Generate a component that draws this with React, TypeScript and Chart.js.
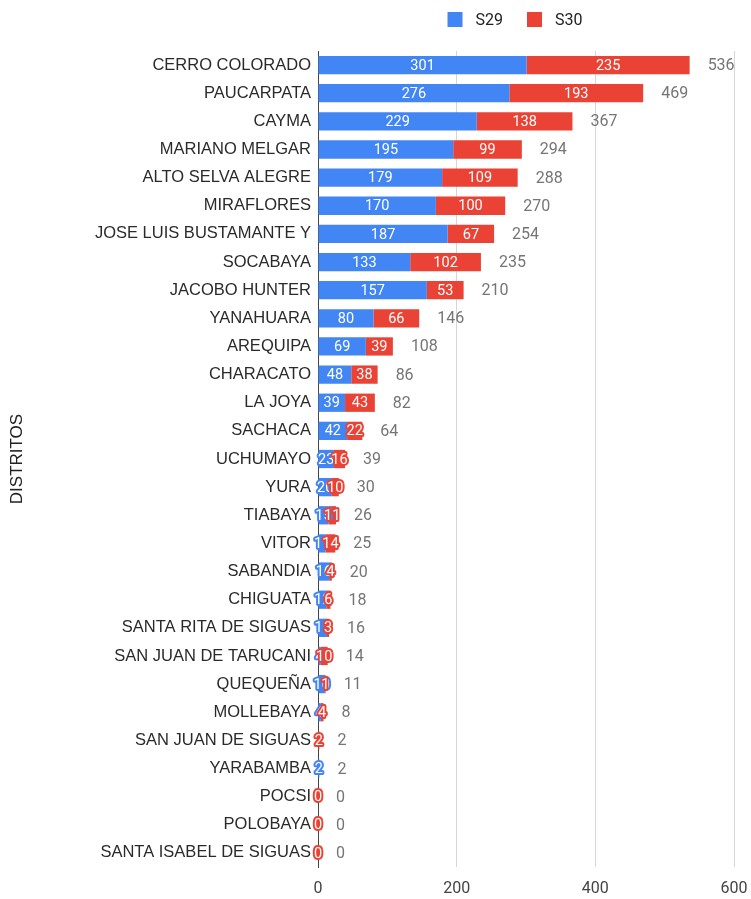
import React, { useEffect, useRef } from "react";
import { Chart, registerables } from "chart.js";

Chart.register(...registerables);

const categories = [
  "CERRO COLORADO",
  "PAUCARPATA",
  "CAYMA",
  "MARIANO MELGAR",
  "ALTO SELVA ALEGRE",
  "MIRAFLORES",
  "JOSE LUIS BUSTAMANTE Y",
  "SOCABAYA",
  "JACOBO HUNTER",
  "YANAHUARA",
  "AREQUIPA",
  "CHARACATO",
  "LA JOYA",
  "SACHACA",
  "UCHUMAYO",
  "YURA",
  "TIABAYA",
  "VITOR",
  "SABANDIA",
  "CHIGUATA",
  "SANTA RITA DE SIGUAS",
  "SAN JUAN DE TARUCANI",
  "QUEQUEÑA",
  "MOLLEBAYA",
  "SAN JUAN DE SIGUAS",
  "YARABAMBA",
  "POCSI",
  "POLOBAYA",
  "SANTA ISABEL DE SIGUAS",
];

const s29 = [301, 276, 229, 195, 179, 170, 187, 133, 157, 80, 69, 48, 39, 42, 23, 20, 15, 11, 16, 12, 13, 4, 10, 4, 0, 2, 0, 0, 0];
const s30 = [235, 193, 138, 99, 109, 100, 67, 102, 53, 66, 39, 38, 43, 22, 16, 10, 11, 14, 4, 6, 3, 10, 1, 4, 2, 0, 0, 0, 0];

const xTicks = [0, 200, 400, 600];

const BLUE = "#4285F4";
const RED = "#EA4335";

const labelsPlugin = {
  id: "customLabels",
  afterDatasetsDraw(chart: any) {
    const ctx = chart.ctx;
    const n = categories.length;
    ctx.save();
    ctx.font = "14.5px Roboto";
    ctx.textAlign = "center";
    ctx.textBaseline = "middle";
    ctx.lineJoin = "round";
    const colors = [BLUE, RED];
    const totals: number[] = [];
    for (let i = 0; i < n; i++) totals.push(s29[i] + s30[i]);
    for (let d = 0; d < 2; d++) {
      const meta = chart.getDatasetMeta(d);
      const vals = d === 0 ? s29 : s30;
      for (let i = 0; i < n; i++) {
        const v = vals[i];
        if (v === 0 && !(totals[i] === 0 && d === 1)) continue;
        const el = meta.data[i];
        const p = el.getProps(["x", "base", "y"], true);
        const cx = (p.x + p.base) / 2;
        const txt = String(v);
        ctx.strokeStyle = colors[d];
        ctx.lineWidth = 4;
        ctx.strokeText(txt, cx, p.y + 1);
        ctx.fillStyle = "#ffffff";
        ctx.fillText(txt, cx, p.y + 1);
      }
    }
    // totals
    const xs = chart.scales.x;
    const m1 = chart.getDatasetMeta(1);
    ctx.font = "16px Roboto";
    ctx.textAlign = "left";
    ctx.fillStyle = "#757575";
    for (let i = 0; i < n; i++) {
      const y = m1.data[i].getProps(["y"], true).y;
      const xEnd = xs.getPixelForValue(totals[i]);
      ctx.fillText(String(totals[i]), xEnd + 18, y + 1);
    }
    // legend
    ctx.font = "16px Roboto";
    ctx.textBaseline = "middle";
    const items = [
      { t: "S29", c: BLUE },
      { t: "S30", c: RED },
    ];
    const box = 15;
    const gapBT = 13;
    const gapItems = 24;
    let total = 0;
    items.forEach((it, k) => {
      total += box + gapBT + ctx.measureText(it.t).width + (k < items.length - 1 ? gapItems : 0);
    });
    const ca = chart.chartArea;
    let x = (ca.left + ca.right) / 2 - 11 - total / 2;
    const ly = 19.5;
    items.forEach((it) => {
      ctx.fillStyle = it.c;
      ctx.fillRect(x, ly - box / 2, box, box);
      x += box + gapBT;
      ctx.fillStyle = "#222222";
      ctx.fillText(it.t, x, ly + 1);
      x += ctx.measureText(it.t).width + gapItems;
    });
    ctx.restore();
  },
};

export default function App() {
  const ref = useRef<HTMLCanvasElement | null>(null);
  useEffect(() => {
    document.body.style.margin = "0";
    const canvas = ref.current!;
    const chart = new Chart(canvas, {
      type: "bar",
      data: {
        labels: categories,
        datasets: [
          { label: "S29", data: s29, backgroundColor: BLUE, barPercentage: 0.65, categoryPercentage: 1 },
          { label: "S30", data: s30, backgroundColor: RED, barPercentage: 0.65, categoryPercentage: 1 },
        ],
      },
      options: {
        indexAxis: "y",
        responsive: false,
        animation: false,
        layout: { padding: { top: 51, right: 17, bottom: 0, left: 0 } },
        plugins: {
          legend: { display: false },
          tooltip: { enabled: false },
        },
        scales: {
          x: {
            stacked: true,
            min: 0,
            max: 600,
            afterBuildTicks: (scale: any) => {
              scale.ticks = xTicks.map((v) => ({ value: v }));
            },
            afterFit: (scale: any) => {
              scale.height = 32;
              scale.paddingRight = 0;
              scale.paddingLeft = 0;
            },
            ticks: {
              padding: 12,
              color: "#444444",
              font: { family: "Roboto", size: 16 },
            },
            grid: {
              drawTicks: false,
              color: (c: any) => (c.tick && c.tick.value === 0 ? "rgba(0,0,0,0)" : "#d6d6d6"),
              lineWidth: 1,
            },
            border: { display: false },
          },
          y: {
            stacked: true,
            afterFit: (scale: any) => {
              scale.width = 318;
              scale.paddingTop = 0;
              scale.paddingBottom = 0;
            },
            ticks: {
              padding: 7,
              color: "#2a2a2a",
              autoSkip: false,
              font: { family: "Liberation Sans", size: 16.5 },
            },
            grid: { display: false, drawTicks: false },
            border: { display: true, color: "#444444", width: 1 },
            title: {
              display: true,
              text: "DISTRITOS",
              color: "#222222",
              font: { family: "Liberation Sans", size: 17 },
              padding: { top: 7, bottom: 0 },
            },
          },
        },
      },
      plugins: [labelsPlugin],
    } as any);
    return () => chart.destroy();
  }, []);
  return (
    <div style={{ width: 751, height: 899, background: "#ffffff" }}>
      <canvas ref={ref} width={751} height={899} />
    </div>
  );
}
